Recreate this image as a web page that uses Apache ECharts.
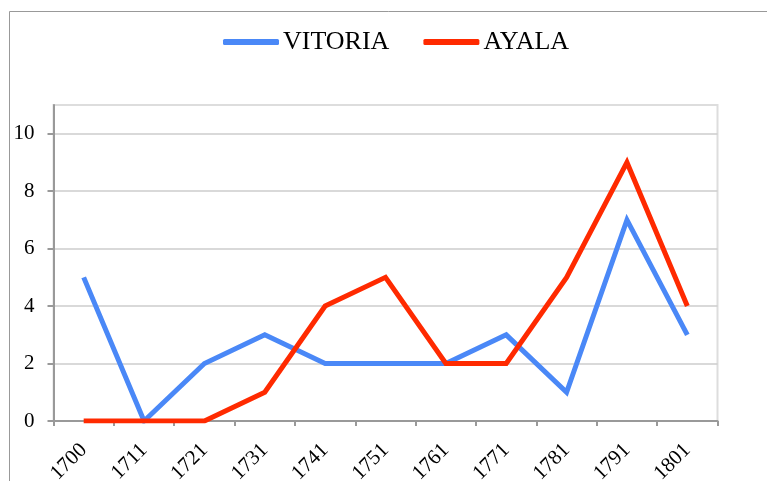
<!DOCTYPE html>
<html>
<head>
    <meta charset="utf-8" />
    <title>VITORIA / AYALA</title>
    <script src="https://cdn.jsdelivr.net/npm/echarts@6/dist/echarts.min.js"></script>
    <style>
        html, body { margin: 0; padding: 0; background: #fff; }
    </style>
</head>
<body>
    <div id="main" style="width: 767px;height: 481px;"></div>
    <script type="text/javascript">
        // datos
        var years = ['1700', '1711', '1721', '1731', '1741', '1751', '1761', '1771', '1781', '1791', '1801'];
        var vitoria = [5, 0, 2, 3, 2, 2, 2, 3, 1, 7, 3];
        var ayala = [0, 0, 0, 1, 4, 5, 2, 2, 5, 9, 4];
        var yLabels = [0, 2, 4, 6, 8, 10];

        var font = '"Liberation Serif", "DejaVu Serif", serif';
        var myChart = echarts.init(document.getElementById('main'));

        var option = {
            animation: false,
            backgroundColor: '#fff',
            graphic: [
                {
                    type: 'rect',
                    shape: { x: 9.5, y: 11.5, width: 800, height: 500 },
                    style: { fill: 'none', stroke: '#999', lineWidth: 1 },
                    silent: true
                }
            ],
            legend: {
                top: 24,
                left: 218,
                itemWidth: 56,
                itemHeight: 6,
                itemGap: 34,
                icon: 'roundRect',
                textStyle: { fontFamily: font, fontSize: 26, color: '#000', padding: [0, 0, 0, -1] },
                data: ['VITORIA', 'AYALA']
            },
            grid: {
                left: 53.5,
                right: 49.5,
                top: 105,
                bottom: 60,
                containLabel: false,
                outerBoundsMode: 'none',
                show: true,
                borderColor: '#ddd',
                borderWidth: 2
            },
            xAxis: {
                type: 'category',
                data: years,
                boundaryGap: true,
                axisLine: { lineStyle: { color: '#999', width: 2 } },
                axisTick: { show: true, length: 5, lineStyle: { color: '#999', width: 2 } },
                axisLabel: { rotate: 45, margin: 26, fontFamily: font, fontSize: 21, color: '#000' },
                splitLine: { show: false }
            },
            yAxis: {
                type: 'value',
                min: 0,
                max: 11,
                interval: 1,
                axisLine: { show: true, lineStyle: { color: '#999', width: 2 } },
                axisTick: { show: true, length: 6, customValues: yLabels, lineStyle: { color: '#999', width: 2 } },
                axisLabel: {
                    margin: 19,
                    fontFamily: font,
                    fontSize: 21,
                    color: '#000',
                    customValues: yLabels
                },
                splitLine: { show: true, lineStyle: { color: '#ccc', width: 1.5 } }
            },
            series: [
                {
                    name: 'VITORIA',
                    type: 'line',
                    data: vitoria,
                    showSymbol: false,
                    symbol: 'none',
                    color: '#4a88f7',
                    lineStyle: { width: 5, join: 'miter', cap: 'butt' }
                },
                {
                    name: 'AYALA',
                    type: 'line',
                    data: ayala,
                    showSymbol: false,
                    symbol: 'none',
                    color: '#ff2a00',
                    lineStyle: { width: 5, join: 'miter', cap: 'butt' }
                }
            ]
        };

        myChart.setOption(option);
    </script>
</body>
</html>
